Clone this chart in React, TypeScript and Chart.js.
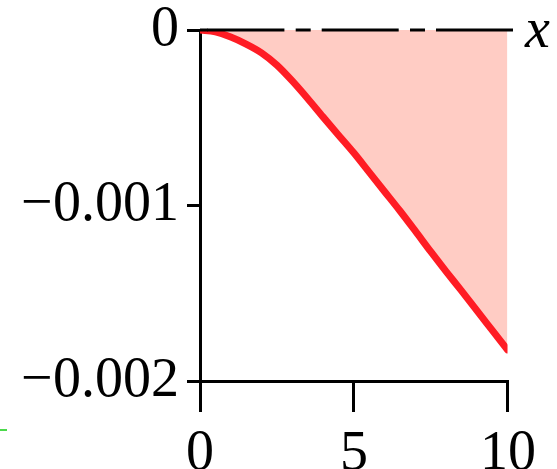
import React, { useEffect, useRef } from "react";
import { Chart, registerables } from "chart.js";

Chart.register(...registerables);

// Displacement curve sampled along x (units of 1)
const xValues = [
  0, 0.5, 1, 1.5, 2, 2.5, 3, 3.5, 4, 4.5, 5, 5.5, 6, 6.5, 7, 7.5, 8, 8.5, 9,
  9.5, 10,
];
const yValues = [
  0, -0.00001, -0.00004, -0.00008, -0.00013, -0.0002, -0.00029, -0.00039,
  -0.000495, -0.000598, -0.0007, -0.00081, -0.00092, -0.00103, -0.001145,
  -0.001262, -0.001375, -0.001485, -0.001598, -0.00171, -0.001822,
];

const xTicks = [0, 5, 10];
const yTicks = [0, -0.001, -0.002];
const axisLabel = "x";

const SERIF = "ChartSerif, 'Liberation Serif', 'Times New Roman', serif";
const LINE_RED = "#ff1c24";
const FILL_PINK = "#ffccc4";

const FACE_CSS = `
@font-face { font-family: 'ChartSerif'; font-style: normal; font-weight: 400;
  src: local('Liberation Serif'), local('LiberationSerif'), local('Liberation Serif Regular'); }
@font-face { font-family: 'ChartSerif'; font-style: italic; font-weight: 400;
  src: local('Liberation Serif Italic'), local('LiberationSerif-Italic'); }
`;

const fmtY = (v: number) =>
  v === 0 ? "0" : "\u2212" + Math.abs(v).toFixed(3);

// Dash-dot zero line along y = 0, plus the axis name at its end
const zeroLinePlugin = {
  id: "zeroLine",
  afterDatasetsDraw(chart: any) {
    const { ctx, scales } = chart;
    const xs = scales.x;
    const ys = scales.y;
    const y0 = ys.getPixelForValue(0);
    const left = xs.getPixelForValue(0);
    const end = xs.getPixelForValue(10) + 5.5;
    ctx.save();
    ctx.strokeStyle = "#000";
    ctx.lineWidth = 3;
    ctx.lineCap = "butt";
    // solid lead-in from the axis
    ctx.beginPath();
    ctx.moveTo(left, y0);
    ctx.lineTo(left + 8, y0);
    ctx.stroke();
    ctx.setLineDash([77, 11.3, 15, 11]);
    ctx.beginPath();
    ctx.moveTo(left + 7.4, y0);
    ctx.lineTo(end, y0);
    ctx.stroke();
    ctx.setLineDash([]);
    ctx.fillStyle = "#000";
    ctx.font = `italic 56px ${SERIF}`;
    ctx.textAlign = "left";
    ctx.textBaseline = "alphabetic";
    ctx.fillText(axisLabel, end + 12, y0 + 17);
    // small green stroke at the lower left
    ctx.strokeStyle = "#11cc11";
    ctx.lineWidth = 1.5;
    ctx.beginPath();
    ctx.moveTo(0, 430);
    ctx.lineTo(7, 430);
    ctx.stroke();
    ctx.restore();
  },
};

export default function App() {
  const canvasRef = useRef<HTMLCanvasElement | null>(null);

  useEffect(() => {
    const canvas = canvasRef.current;
    if (!canvas) return;
    let chart: Chart | null = null;
    let cancelled = false;

    const build = () => {
      if (cancelled) return;
      const points = xValues.map((x, i) => ({ x, y: yValues[i] }));
      chart = new Chart(canvas, {
        type: "line",
        data: {
          datasets: [
            {
              data: points,
              borderColor: LINE_RED,
              backgroundColor: FILL_PINK,
              borderWidth: 7,
              borderCapStyle: "round",
              borderJoinStyle: "round",
              fill: "origin",
              pointRadius: 0,
              cubicInterpolationMode: "monotone",
            },
          ],
        },
        options: {
          animation: false,
          responsive: false,
          devicePixelRatio: 1,
          font: { family: SERIF },
          layout: { padding: { top: 30, right: 49.5, left: 0, bottom: 0 } },
          plugins: {
            legend: { display: false },
            tooltip: { enabled: false },
          },
          scales: {
            x: {
              type: "linear",
              min: 0,
              max: 10,
              afterFit: (s: any) => {
                s.height = 88;
                s.paddingLeft = 0;
                s.paddingRight = 0;
              },
              afterBuildTicks: (s: any) => {
                s.ticks = xTicks.map((v) => ({ value: v }));
              },
              ticks: {
                color: "#000",
                font: { family: SERIF, size: 56, lineHeight: 1 },
                padding: 14,
                maxRotation: 0,
                autoSkip: false,
              },
              grid: {
                drawOnChartArea: false,
                drawTicks: true,
                tickLength: 31,
                color: "#000",
                lineWidth: 3,
              },
              border: { display: true, color: "#000", width: 3 },
            },
            y: {
              type: "linear",
              min: -0.002,
              max: 0,
              afterFit: (s: any) => {
                s.width = 200;
                s.paddingTop = 0;
                s.paddingBottom = 0;
              },
              afterBuildTicks: (s: any) => {
                s.ticks = yTicks.map((v) => ({ value: v }));
              },
              ticks: {
                color: "#000",
                font: { family: SERIF, size: 56, lineHeight: 1 },
                padding: 8,
                autoSkip: false,
                callback: (v: any) => fmtY(Number(v)),
              },
              grid: {
                drawOnChartArea: false,
                drawTicks: true,
                tickLength: 13,
                color: "#000",
                lineWidth: 3,
              },
              border: { display: true, color: "#000", width: 3 },
            },
          },
        },
        plugins: [zeroLinePlugin],
      });
    };

    const style = document.createElement("style");
    style.textContent = FACE_CSS;
    document.head.appendChild(style);
    const fonts: any = (document as any).fonts;
    if (fonts && fonts.load) {
      Promise.all([
        fonts.load("56px ChartSerif", "0.125x"),
        fonts.load("italic 56px ChartSerif", "x"),
      ])
        .catch(() => undefined)
        .then(build);
    } else {
      build();
    }

    return () => {
      cancelled = true;
      if (chart) chart.destroy();
      style.remove();
    };
  }, []);

  return (
    <div style={{ position: "fixed", left: 0, top: 0, width: 557, height: 469, background: "#fff" }}>
      <canvas ref={canvasRef} width={557} height={469} style={{ display: "block" }} />
    </div>
  );
}
